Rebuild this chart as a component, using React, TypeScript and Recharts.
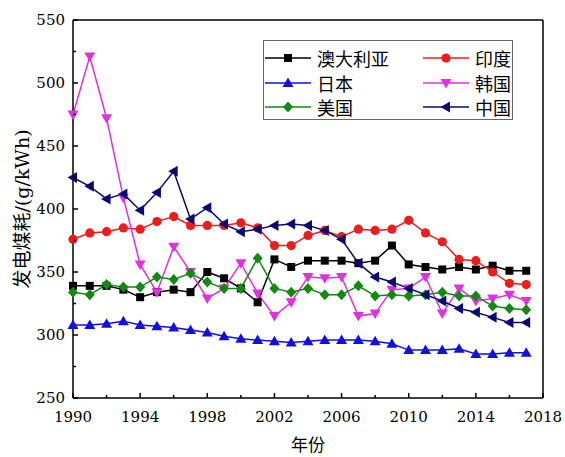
import { LineChart, Line, XAxis, YAxis, ReferenceLine, Legend, Label } from "recharts"

const years = [
  1990, 1991, 1992, 1993, 1994, 1995, 1996, 1997, 1998, 1999, 2000, 2001, 2002, 2003,
  2004, 2005, 2006, 2007, 2008, 2009, 2010, 2011, 2012, 2013, 2014, 2015, 2016, 2017,
]

const australia = [339, 339, 339, 336, 330, 334, 336, 334, 350, 345, 337, 326, 360, 354, 359, 359, 359, 357, 359, 371, 356, 354, 352, 354, 352, 355, 351, 351]
const india = [376, 381, 382, 385, 384, 390, 394, 387, 387, 387, 389, 385, 371, 371, 379, 383, 378, 384, 383, 384, 391, 381, 374, 360, 359, 350, 341, 340]
const japan = [308, 308, 309, 311, 308, 307, 306, 304, 302, 299, 297, 296, 295, 294, 295, 296, 296, 296, 295, 293, 288, 288, 288, 289, 285, 285, 286, 286]
const korea = [475, 521, 472, 409, 356, 334, 370, 350, 329, 337, 357, 333, 315, 326, 346, 345, 346, 315, 317, 336, 337, 346, 317, 337, 327, 329, 332, 327]
const usa = [334, 332, 340, 338, 338, 346, 344, 349, 342, 337, 337, 361, 337, 334, 337, 332, 332, 339, 331, 332, 331, 332, 334, 331, 331, 323, 321, 320]
const china = [425, 418, 408, 412, 399, 413, 430, 392, 401, 388, 382, 384, 387, 388, 387, 383, 376, 357, 346, 342, 337, 332, 327, 321, 318, 314, 310, 310]

const xTicks = [1990, 1992, 1994, 1996, 1998, 2000, 2002, 2004, 2006, 2008, 2010, 2012, 2014, 2016, 2018]
const yTicks = [250, 275, 300, 325, 350, 375, 400, 425, 450, 475, 500, 525, 550]

type Shape = "square" | "circle" | "up" | "down" | "diamond" | "left"

const series: { key: string; name: string; color: string; shape: Shape; values: number[] }[] = [
  { key: "australia", name: "澳大利亚", color: "#000000", shape: "square", values: australia },
  { key: "india", name: "印度", color: "#ee1c1c", shape: "circle", values: india },
  { key: "japan", name: "日本", color: "#1010e0", shape: "up", values: japan },
  { key: "korea", name: "韩国", color: "#e030e0", shape: "down", values: korea },
  { key: "usa", name: "美国", color: "#128a12", shape: "diamond", values: usa },
  { key: "china", name: "中国", color: "#0a0a70", shape: "left", values: china },
]

const chartData = years.map((year, i) => {
  const row: Record<string, number> = { year }
  series.forEach((s) => {
    row[s.key] = s.values[i]
  })
  return row
})

// Liberation Serif doesn't resolve in the sandbox; DejaVu Serif does
const serif = "DejaVu Serif, serif"
const cjk = "DejaVu Serif, Noto Sans CJK SC"

function Marker({ shape, cx, cy, color }: { shape: Shape; cx: number; cy: number; color: string }) {
  if (cx == null || cy == null) return null
  const r = 5.5
  switch (shape) {
    case "square":
      return <rect x={cx - 4} y={cy - 4} width={8} height={8} fill={color} />
    case "circle":
      return <circle cx={cx} cy={cy} r={4.6} fill={color} />
    case "up":
      return <polygon points={`${cx},${cy - r} ${cx + r},${cy + 4} ${cx - r},${cy + 4}`} fill={color} />
    case "down":
      return <polygon points={`${cx - r},${cy - 4} ${cx + r},${cy - 4} ${cx},${cy + r}`} fill={color} />
    case "left":
      return <polygon points={`${cx - r},${cy} ${cx + 4},${cy - r} ${cx + 4},${cy + r}`} fill={color} />
    case "diamond":
      return <polygon points={`${cx},${cy - r} ${cx + 5},${cy} ${cx},${cy + r} ${cx - 5},${cy}`} fill={color} />
  }
  return null
}

const XTick = (props: any) => {
  const { x, y, payload } = props
  const major = (payload.value - 1990) % 4 === 0
  return (
    <g>
      <line x1={x} x2={x} y1={y} y2={y - (major ? 5 : 3)} stroke="#000" strokeWidth={1.5} />
      {major && (
        <text x={x} y={y + 19} textAnchor="middle" dominantBaseline="central" fontFamily={serif} fontSize={15} fill="#000">
          {payload.value}
        </text>
      )}
    </g>
  )
}

const YTick = (props: any) => {
  const { x, y, payload } = props
  const major = payload.value % 50 === 0
  return (
    <g>
      <line x1={x} x2={x + (major ? 5 : 3)} y1={y} y2={y} stroke="#000" strokeWidth={1.5} />
      {major && (
        <text x={x - 8} y={y} textAnchor="end" dominantBaseline="central" fontFamily={serif} fontSize={15} fill="#000">
          {payload.value}
        </text>
      )}
    </g>
  )
}

const LegendBox = () => (
  <div
    style={{
      width: 250,
      height: 80,
      border: "1px solid #666",
      boxSizing: "border-box",
      display: "grid",
      gridTemplateColumns: "158px 90px",
      gridAutoRows: "24.5px",
      paddingTop: 5,
      background: "#fff",
    }}
  >
    {series.map((item) => (
      <div key={item.key} style={{ display: "flex", alignItems: "center", whiteSpace: "nowrap" }}>
        <svg width={48} height={16} style={{ marginLeft: 1, flexShrink: 0 }}>
          <line x1={0} x2={46} y1={8} y2={8} stroke={item.color} strokeWidth={1.5} />
          <Marker shape={item.shape} cx={23} cy={8} color={item.color} />
        </svg>
        <span style={{ fontFamily: "Noto Sans CJK SC", fontSize: 18, color: "#000", marginLeft: 4, lineHeight: "20px" }}>
          {item.name}
        </span>
      </div>
    ))}
  </div>
)

export default function App() {
  return (
    <div style={{ width: 565, height: 457, background: "#fff" }}>
      <style>{"body{margin:0}"}</style>
      <LineChart width={565} height={457} data={chartData} margin={{ top: 20, right: 22, bottom: 0, left: 0 }}>
        <XAxis
          dataKey="year"
          type="number"
          domain={[1990, 2018]}
          ticks={xTicks}
          interval={0}
          height={59}
          tickSize={0}
          tickMargin={0}
          tickLine={false}
          tick={<XTick />}
          axisLine={{ stroke: "#000", strokeWidth: 1.5 }}
        >
          <Label
            content={() => (
              <text x={308} y={443} textAnchor="middle" dominantBaseline="central" fontFamily="Noto Sans CJK SC" fontSize={17} fill="#000">
                年份
              </text>
            )}
          />
        </XAxis>
        <YAxis
          type="number"
          domain={[250, 550]}
          ticks={yTicks}
          interval={0}
          width={73}
          tickSize={0}
          tickMargin={0}
          tickLine={false}
          tick={<YTick />}
          axisLine={{ stroke: "#000", strokeWidth: 1.5 }}
        >
          <Label
            content={() => (
              <text
                x={22}
                y={209}
                transform="rotate(-90 22 209)"
                textAnchor="middle"
                dominantBaseline="central"
                fontFamily={cjk}
                fontSize={19}
                fill="#000"
              >
                发电煤耗/(g/kWh)
              </text>
            )}
          />
        </YAxis>
        <ReferenceLine y={550} stroke="#000" strokeWidth={1.5} />
        <ReferenceLine x={2018} stroke="#000" strokeWidth={1.5} />
        {series.map((s) => (
          <Line
            key={s.key}
            dataKey={s.key}
            name={s.name}
            type="linear"
            stroke={s.color}
            strokeWidth={1.5}
            isAnimationActive={false}
            activeDot={false}
            dot={(p: any) => <Marker key={`${s.key}-${p.index}`} shape={s.shape} cx={p.cx} cy={p.cy} color={s.color} />}
          />
        ))}
        <Legend
          layout="vertical"
          align="center"
          verticalAlign="middle"
          content={() => <LegendBox />}
          wrapperStyle={{ position: "absolute", left: 263, top: 40, width: 250, height: 80 }}
        />
      </LineChart>
    </div>
  )
}
